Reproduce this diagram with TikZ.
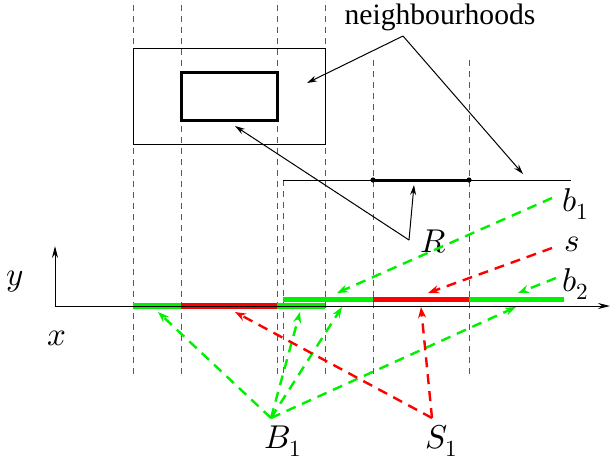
\documentclass[tikz,border=0pt]{standalone}
\usepackage{fontspec}
\setmainfont{Liberation Serif}
\newfontfamily\nbfont{Liberation Serif}
\usepackage{unicode-math}
\setmathfont{Latin Modern Math}
\usetikzlibrary{arrows.meta}
\definecolor{gr}{RGB}{0,240,0}
\definecolor{rd}{RGB}{255,0,0}
\tikzset{
  guide/.style={draw=black!65, line width=0.5pt, dash pattern=on 3pt off 2.5pt},
  thinline/.style={draw=black, line width=0.5pt},
  blarrow/.style={draw=black, line width=0.5pt, -{Stealth[length=5pt,width=3pt]}},
  garrow/.style={draw=gr, line width=1.2pt, dash pattern=on 5pt off 3.5pt, -{Stealth[length=5.5pt,width=4pt]}},
  rarrow/.style={draw=rd, line width=1.2pt, dash pattern=on 5pt off 3.5pt, -{Stealth[length=5.5pt,width=4pt]}},
  gbar/.style={draw=gr, line width=2.6pt},
  rbar/.style={draw=rd, line width=2.6pt},
  mlabel/.style={font=\fontsize{16.5}{19}\selectfont, inner sep=0pt},
}
\begin{document}
\begin{tikzpicture}[x=0.5pt,y=-0.5pt]
\useasboundingbox (0,0) rectangle (610,466);
% guides
\foreach \gx/\ga/\gb in {133/5/375,181/5/375,277/5/375,325/5/375,283/180/375,373/60/377,469/60/377}
  \draw[guide] (\gx,\ga) -- (\gx,\gb);
% rectangles
\draw[thinline] (133,48) rectangle (325,144);
\draw[line width=1.5pt] (181,72) rectangle (277,120);
% horizontal line with R segment
\coordinate (hl) at (283,180);
\coordinate (hr) at (571,180);
\coordinate (ra) at (373,180);
\coordinate (rb) at (469,180);
\draw[thinline] (hl) -- (hr);
\draw[line width=1.5pt] (ra) -- (rb);
\fill (ra) circle (2.6);
\fill (rb) circle (2.6);
% neighbourhoods
\node[font=\nbfont\fontsize{14.8}{17}\selectfont, inner sep=0pt] (nb) at (440,17) {neighbourhoods};
\coordinate (nbv) at (403,36);
\coordinate (nbt1) at (307,83);
\coordinate (nbt2) at (523,174);
\draw[blarrow] (nbv) -- (nbt1);
\draw[blarrow] (nbv) -- (nbt2);
% R
\node[mlabel] (R) at (433,242) {$R$};
\coordinate (rv) at (409,240);
\coordinate (rt1) at (235,126);
\coordinate (rt2) at (414,185);
\draw[blarrow] (rv) -- (rt1);
\draw[blarrow] (rv) -- (rt2);
% bars
\draw[gbar] (133,306) -- (181,306);
\draw[rbar] (181,306) -- (277,306);
\draw[gbar] (277,306) -- (325,306);
\draw[gbar] (283,299.5) -- (373,299.5);
\draw[rbar] (373,299.5) -- (469,299.5);
\draw[gbar] (469,299.5) -- (564,299.5);
% axes
\coordinate (o) at (55,306);
\coordinate (ya) at (55,246);
\coordinate (xa) at (610,306);
\draw[line width=0.5pt, -{Stealth[length=6pt,width=3pt]}] (o) -- (ya);
\draw[line width=0.5pt, -{Stealth[length=6pt,width=3pt]}] (o) -- (xa);
\node[mlabel] (ylab) at (15,282) {$y$};
\node[mlabel] (xlab) at (57,338) {$x$};
% labels right
\node[mlabel] (b1) at (576,204) {$b_1$};
\node[mlabel] (s) at (572,244) {$s$};
\node[mlabel] (b2) at (576,284) {$b_2$};
\coordinate (b1s) at (552,198);
\coordinate (ss) at (552,248);
\coordinate (b2s) at (556,278);
\coordinate (b1t) at (337,293);
\coordinate (st) at (428,293);
\coordinate (b2t) at (518,293);
\draw[garrow] (b1s) -- (b1t);
\draw[rarrow] (ss) -- (st);
\draw[garrow] (b2s) -- (b2t);
% B1 and S1
\node[mlabel] (B1) at (283,441) {$B_1$};
\node[mlabel] (S1) at (442,441) {$S_1$};
\coordinate (Bv) at (271,418);
\coordinate (Sv) at (432,418);
\coordinate (Bt1) at (158,312);
\coordinate (Bt2) at (300,312);
\coordinate (Bt3) at (342,307);
\coordinate (Bt4) at (516,307);
\coordinate (St1) at (235,312);
\coordinate (St2) at (421,307);
\draw[garrow] (Bv) -- (Bt1);
\draw[garrow] (Bv) -- (Bt2);
\draw[garrow] (Bv) -- (Bt3);
\draw[garrow] (Bv) -- (Bt4);
\draw[rarrow] (Sv) -- (St1);
\draw[rarrow] (Sv) -- (St2);
\end{tikzpicture}
\end{document}
